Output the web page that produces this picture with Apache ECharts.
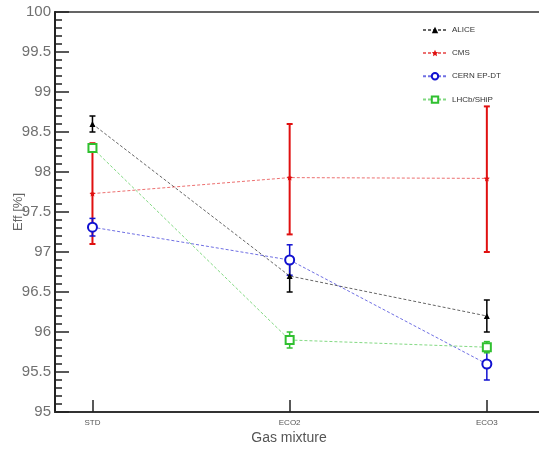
<!DOCTYPE html>
<html><head><meta charset="utf-8">
<script src="https://cdn.jsdelivr.net/npm/echarts@6/dist/echarts.min.js"></script>
<style>html,body{margin:0;padding:0;background:#fff}#c{width:539px;height:452px}</style>
</head><body><div id="c"></div>
<script>
const categories = ['STD', 'ECO2', 'ECO3'];
const seriesNames = ['ALICE', 'CMS', 'CERN EP-DT', 'LHCb/SHiP'];
const aliceVal = [98.6, 96.7, 96.2];
const aliceLow = [98.5, 96.5, 96.0];
const aliceHigh = [98.7, 96.9, 96.4];
const cmsVal = [97.73, 97.93, 97.92];
const cmsLow = [97.1, 97.22, 97.0];
const cmsHigh = [98.36, 98.6, 98.82];
const cernVal = [97.31, 96.9, 95.6];
const cernLow = [97.2, 96.71, 95.4];
const cernHigh = [97.42, 97.09, 95.82];
const lhcbVal = [98.3, 95.9, 95.81];
const lhcbLow = [98.25, 95.8, 95.74];
const lhcbHigh = [98.35, 96.0, 95.88];
const yTicks = [95, 95.5, 96, 96.5, 97, 97.5, 98, 98.5, 99, 99.5, 100];

const FONT = 'Liberation Sans, Arial, sans-serif';
const colors = ['#000000', '#e01010', '#1010d0', '#30c030'];
const symbols = ['triangle', 'path://M0,-10L2.9,-4L9.5,-3.1L4.7,1.5L5.9,8.1L0,5L-5.9,8.1L-4.7,1.5L-9.5,-3.1L-2.9,-4Z', 'circle', 'rect'];
const symbolSizes = [6, 6, 9, 8];
const groups = [
  [aliceVal, aliceLow, aliceHigh],
  [cmsVal, cmsLow, cmsHigh],
  [cernVal, cernLow, cernHigh],
  [lhcbVal, lhcbLow, lhcbHigh]
];

const series = [];
groups.forEach((g, i) => {
  series.push({
    type: 'custom',
    name: seriesNames[i] + ' err',
    data: categories.map((c, k) => [k, g[1][k], g[2][k]]),
    renderItem: function (params, api) {
      const x = api.value(0);
      const lo = api.coord([x, api.value(1)]);
      const hi = api.coord([x, api.value(2)]);
      const w = 3;
      const st = { stroke: colors[i], lineWidth: i === 1 ? 2 : 1.5 };
      return {
        type: 'group', children: [
          { type: 'line', shape: { x1: lo[0], y1: lo[1], x2: hi[0], y2: hi[1] }, style: st },
          { type: 'line', shape: { x1: lo[0] - w, y1: lo[1], x2: lo[0] + w, y2: lo[1] }, style: st },
          { type: 'line', shape: { x1: hi[0] - w, y1: hi[1], x2: hi[0] + w, y2: hi[1] }, style: st }
        ]
      };
    },
    z: 3,
    silent: true
  });
});
groups.forEach((g, i) => {
  const hollow = i >= 2;
  series.push({
    type: 'line',
    name: seriesNames[i],
    data: categories.map((c, k) => [k, g[0][k]]),
    symbol: symbols[i],
    symbolSize: symbolSizes[i],
    showAllSymbol: true,
    lineStyle: { color: colors[i], width: 1, type: [3, 2], opacity: 0.6 },
    itemStyle: hollow ? { color: '#ffffff', borderColor: colors[i], borderWidth: 2 } : { color: colors[i], borderWidth: 0 },
    z: 4
  });
});

const chart = echarts.init(document.getElementById('c'), null, { renderer: 'canvas' });
chart.setOption({
  animation: false,
  backgroundColor: '#ffffff',
  grid: { left: 55, top: 12, bottom: 40, width: 491, containLabel: false, outerBoundsMode: 'none', show: true, borderColor: '#333', borderWidth: 1.5, backgroundColor: 'transparent' },
  legend: {
    data: seriesNames,
    orient: 'vertical',
    left: 417, top: 21,
    itemWidth: 24, itemHeight: 8, itemGap: 15,
    textStyle: { fontFamily: FONT, fontSize: 8, color: '#333' }
  },
  xAxis: {
    type: 'value', min: -0.19, max: 2.3,
    splitLine: { show: false },
    axisLine: { onZero: false, lineStyle: { color: '#333', width: 2 } },
    axisTick: { show: true, inside: true, length: 12, lineStyle: { color: '#222', width: 1.5 }, customValues: [0, 1, 2] },
    axisLabel: {
      customValues: [0, 1, 2],
      formatter: v => categories[Math.round(v)],
      fontFamily: FONT, fontSize: 8, color: '#555', margin: 7
    }
  },
  yAxis: {
    type: 'value', min: yTicks[0], max: yTicks[yTicks.length - 1], interval: 0.5,
    splitLine: { show: false },
    axisLine: { show: true, onZero: false, lineStyle: { color: '#222', width: 2 } },
    axisTick: { show: true, inside: true, length: 14, lineStyle: { color: '#222', width: 1.5 } },
    minorTick: { show: true, splitNumber: 5, length: 7, lineStyle: { color: '#222', width: 1.5 } },
    axisLabel: { fontFamily: FONT, fontSize: 15, color: '#707070', margin: 4, showMinLabel: true, showMaxLabel: true },
    name: 'Eff [%]',
    nameLocation: 'middle', nameGap: 30, nameMoveOverlap: false,
    nameTextStyle: { fontFamily: FONT, fontSize: 13, color: '#666' }
  },
  graphic: [{
    type: 'text', x: 289, y: 438,
    style: { text: 'Gas mixture', font: '14px ' + FONT, fill: '#555', textAlign: 'center', textVerticalAlign: 'middle' }
  }],
  series: series
});
</script></body></html>
